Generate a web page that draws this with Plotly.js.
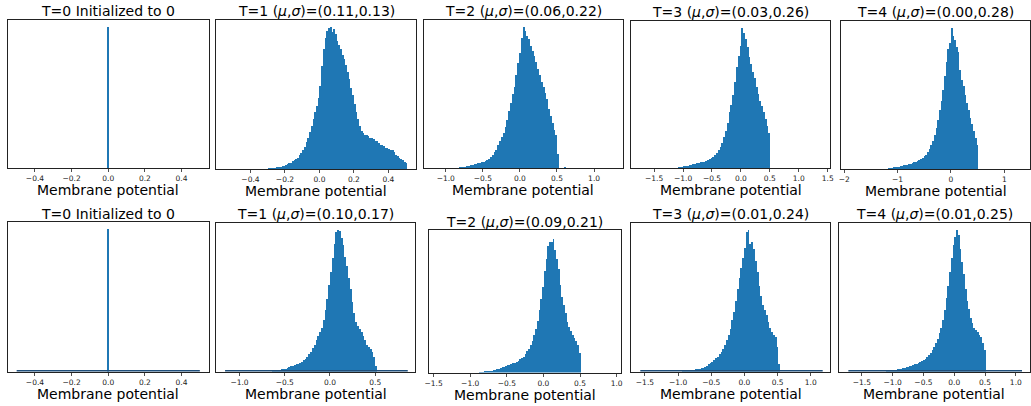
<!DOCTYPE html>
<html><head><meta charset="utf-8">
<script src="https://cdn.plot.ly/plotly-3.0.1.min.js"></script>
<style>html,body{margin:0;padding:0;background:#fff}#chart{width:1031px;height:406px}</style>
</head><body><div id="chart"></div>
<script>
// ---------- DATA (relative bin counts, peak = 100) ----------
const stepLabels = ["T=0","T=1","T=2","T=3","T=4","T=0","T=1","T=2","T=3","T=4"];
const muValues    = [null,"0.11","0.06","0.03","0.00",null,"0.10","0.09","0.01","0.01"];
const sigmaValues = [null,"0.13","0.22","0.26","0.28",null,"0.17","0.21","0.24","0.25"];

const binStarts = [-0.006, -0.31, -0.82, -1.12, -1.218, -0.006, -0.64, -0.882, -0.934, -1.103];
const binWidths = [0.012, 0.01, 0.0245, 0.0313, 0.032, 0.012, 0.02, 0.024, 0.0273, 0.0283];

const countsTop0 = [100];
const countsTop1 = [0.3,0.4,0.5,0.6,0.8,1.0,1.1,1.4,1.7,2.0,2.3,2.8,3.3,3.9,4.5,5.3,6.2,7.0,8.0,9.5,11.5,13.5,15.5,19,22,26,30,35,40,44,50,58,72,84,92,97,99,100,96,98,95,90,87,84,80,77,73,68,63,57,52,46,40,35,30,27,25,24,24,23,22,22,21,20,20,18,17,17,16,15,15,14,13,13,12,10,9,8,7,6,5,4];
const countsTop2 = [0.5,0.6,0.8,1.0,1.3,1.6,2.0,2.3,2.6,3.0,3.3,3.6,4.0,4.5,5.0,5.8,6.7,7.8,9.0,11,13,16,19,22,25,29,34,40,46,52,57,66,74,81,92,100,97,93,91,86,83,79,75,70,66,61,57,53,49,42,37,32,27,23,10,0,0,0,0.4];
const countsTop3 = [0.3,0.5,0.7,0.9,1.1,1.3,1.6,1.9,2.2,2.6,3.0,3.3,3.6,4.0,4.3,4.6,5.0,5.5,6.2,7.0,8.0,9.3,11,13,15,18,22,26,32,40,45,52,61,72,80,87,100,96,92,86,79,74,68,64,58,53,48,44,40,35,30,25];
const countsTop4 = [0.3,0.5,0.7,0.9,1.1,1.3,1.5,1.7,2.0,2.2,2.5,2.8,3.1,3.4,3.8,4.2,4.6,5.0,5.5,6.2,7.0,8.0,9.0,10,12,14,17,20,24,29,35,42,48,56,66,76,85,89,100,94,91,86,83,70,63,59,52,47,42,36,32,27,22,17];
const countsBot0 = [100];
const countsBot1 = [0.5,0.7,0.9,1.1,1.3,1.5,1.8,2.1,2.5,3.0,3.6,4.2,4.6,5.0,5.5,6.2,7.0,8.0,9.0,10.5,12,14,16.5,19,22,25,28,31,36,43,51,61,70,80,90,98,100,99,94,89,81,74,66,58,49,41,35,32,30,28,25,22,19,17,16,14,10,4];
const countsBot2 = [0.4,0.5,0.6,0.8,0.9,1.0,1.2,1.4,1.7,2.0,2.4,2.8,3.3,3.9,4.4,5.0,5.5,6.0,6.5,7.0,7.5,8.2,9.0,10,11,12,14,16,18,21,24,28,33,39,47,55,64,76,85,95,98,98,100,92,85,78,66,57,51,45,38,34,31,28,26,24,21,15];
const countsBot3 = [0.4,0.5,0.6,0.7,0.8,1.0,1.2,1.5,1.8,2.1,2.4,2.7,3.2,4.0,5.0,5.8,6.8,8.0,9.3,10.5,12,14,16,19,22,26,30,36,42,50,58,66,73,80,87,98,100,90,91,86,78,70,60,53,47,43,40,35,31,28,26,24,17,5];
const countsBot4 = [0.4,0.6,0.8,1.0,1.2,1.4,1.6,1.8,2.0,2.3,2.6,2.9,3.2,3.6,4.0,4.5,5.0,5.5,6.0,6.7,7.3,8.0,9.0,10,11.5,13,15,17,20,23,27,31,36,43,52,60,70,80,89,95,100,96,86,77,69,58,50,44,38,34,31,29,28,26,24,20,15];

// data extent (zero-count bins drawn as baseline) for the bottom row
const baselineLo = [null,null,null,null,null,-0.5,-1.16,null,-1.57,-1.72];
const baselineHi = [null,null,null,null,null, 0.5, 0.86,null, 1.18, 1.10];

const tickValsA = [-0.4,-0.2,0,0.2,0.4];
const tickTextA = ["\u22120.4","\u22120.2","0.0","0.2","0.4"];
const tickValsB = [-1,-0.5,0,0.5,1];
const tickTextB = ["\u22121.0","\u22120.5","0.0","0.5","1.0"];
const tickValsC = [-1.5,-1,-0.5,0,0.5,1,1.5];
const tickTextC = ["\u22121.5","\u22121.0","\u22120.5","0.0","0.5","1.0","1.5"];
const tickValsD = [-2,-1,0,1];
const tickTextD = ["\u22122","\u22121","0","1"];
const tickValsE = [-1,-0.5,0,0.5];
const tickTextE = ["\u22121.0","\u22120.5","0.0","0.5"];
const tickValsF = [-1.5,-1,-0.5,0,0.5,1];
const tickTextF = ["\u22121.5","\u22121.0","\u22120.5","0.0","0.5","1.0"];

const xAxisTitle = "Membrane potential";

// ---------- LAYOUT / STYLE ----------
const allCounts = [countsTop0,countsTop1,countsTop2,countsTop3,countsTop4,countsBot0,countsBot1,countsBot2,countsBot3,countsBot4];
const ticksPerPanel = [[tickValsA,tickTextA],[tickValsA,tickTextA],[tickValsB,tickTextB],[tickValsC,tickTextC],[tickValsD,tickTextD],
                       [tickValsA,tickTextA],[tickValsE,tickTextE],[tickValsF,tickTextF],[tickValsF,tickTextF],[tickValsF,tickTextF]];
const xRanges = [[-0.55,0.55],[-0.60,0.56],[-1.30,1.39],[-1.90,1.54],[-2.06,1.48],
                 [-0.55,0.55],[-1.26,0.94],[-1.57,1.06],[-1.71,1.29],[-1.88,1.23]];
const boxes = [[7.5,209,19.5,168],[216,416,19.5,169],[423.5,623,19.5,168],[631,830,20.5,168],[841,1030,20.5,169],
               [7.5,209,222,371.5],[216,415,222.5,371.5],[428.5,621,230,372.5],[631,830,222.5,371.5],[838.5,1030,222.5,371.5]];
const W = 1031, H = 406;
const BLUE = '#1f77b4', FRAME = '#222222';
const FONT = 'DejaVu Sans, Arial, sans-serif';

const traces = [];
const layout = {
  width: W, height: H, margin: {l:0,r:0,t:0,b:0},
  paper_bgcolor: '#ffffff', plot_bgcolor: '#ffffff',
  showlegend: false, bargap: 0, annotations: []
};

allCounts.forEach((counts, i) => {
  const n = i + 1;
  const xa = n === 1 ? 'x' : 'x' + n;
  const ya = n === 1 ? 'y' : 'y' + n;
  const centers = counts.map((_, k) => binStarts[i] + (k + 0.5) * binWidths[i]);
  traces.push({
    type: 'bar', x: centers, y: counts, width: binWidths[i],
    marker: {color: BLUE, line: {width: 0}},
    xaxis: xa, yaxis: ya, hoverinfo: 'skip'
  });
  if (baselineLo[i] !== null) {
    traces.push({
      type: 'scatter', mode: 'lines', x: [baselineLo[i], baselineHi[i]], y: [0, 0],
      line: {color: '#1f4e7a', width: 3}, xaxis: xa, yaxis: ya, hoverinfo: 'skip'
    });
  }
  const b = boxes[i];
  const maxC = Math.max(...counts);
  layout['xaxis' + (n === 1 ? '' : n)] = {
    domain: [b[0] / W, b[1] / W], range: xRanges[i], anchor: ya,
    tickmode: 'array', tickvals: ticksPerPanel[i][0], ticktext: ticksPerPanel[i][1],
    ticks: 'outside', ticklen: 3, tickwidth: 0.8, tickcolor: FRAME,
    tickfont: {family: FONT, size: 7.5, color: '#222'},
    showline: true, linecolor: FRAME, linewidth: 1, mirror: true,
    showgrid: false, zeroline: false, fixedrange: true
  };
  layout['yaxis' + (n === 1 ? '' : n)] = {
    domain: [1 - b[3] / H, 1 - b[2] / H], range: [0, maxC * (i === 7 ? 1.07 : 1.05)], anchor: xa,
    showticklabels: false, ticks: '',
    showline: true, linecolor: FRAME, linewidth: 1, mirror: true,
    showgrid: false, zeroline: false, fixedrange: true
  };
  const title = muValues[i] === null
    ? stepLabels[i] + ' Initialized to 0'
    : stepLabels[i] + ' (<i>\u03bc</i>,<i>\u03c3</i>)=(' + muValues[i] + ',' + sigmaValues[i] + ')';
  layout.annotations.push({
    text: title, xref: xa + ' domain', yref: ya + ' domain', x: 0.5, y: 1,
    xanchor: 'center', yanchor: 'middle', yshift: 8.5, showarrow: false,
    font: {family: FONT, size: 14, color: '#000'}
  });
  layout.annotations.push({
    text: xAxisTitle, xref: xa + ' domain', yref: ya + ' domain', x: 0.5, y: 0,
    xanchor: 'center', yanchor: 'middle', yshift: -22, showarrow: false,
    font: {family: FONT, size: 14, color: '#000'}
  });
});

Plotly.newPlot('chart', traces, layout, {staticPlot: true, displayModeBar: false});
</script></body></html>
